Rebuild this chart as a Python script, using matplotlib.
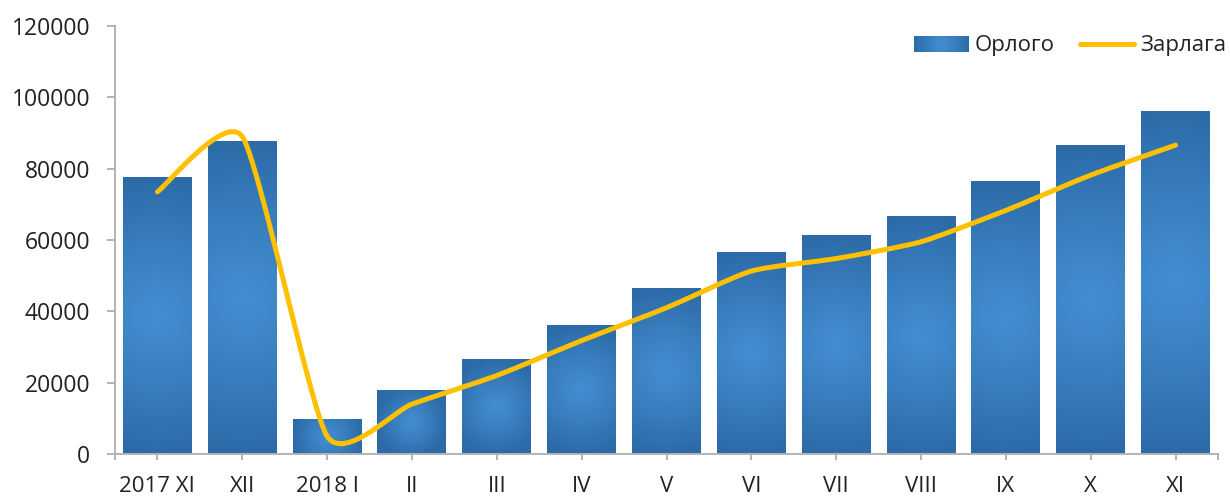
import numpy as np
import matplotlib
matplotlib.use('Agg')
import matplotlib.pyplot as plt
from matplotlib.path import Path
from matplotlib.patches import PathPatch, Rectangle
from matplotlib.lines import Line2D
from matplotlib.colors import LinearSegmentedColormap

# ---- data ----
categories = ['2017 XI', 'XII', '2018 I', 'II', 'III', 'IV', 'V', 'VI', 'VII', 'VIII', 'IX', 'X', 'XI']
orlogo = [77400, 87500, 9800, 17700, 26600, 35900, 46300, 56400, 61400, 66700, 76300, 86400, 95900]
zarlaga = [73500, 89000, 5000, 14000, 22000, 31800, 41000, 51300, 54800, 59500, 68300, 78200, 86600]
yticks = [0, 20000, 40000, 60000, 80000, 100000, 120000]
series_names = ['Орлого', 'Зарлага']

plt.rcParams['font.family'] = ['Open Sans', 'DejaVu Sans']

W, H = 1230, 499
fig = plt.figure(figsize=(W / 100, H / 100), dpi=100)
ax = fig.add_axes([115 / W, 45 / H, 1103 / W, 428 / H])

x = np.arange(len(categories))
bars = ax.bar(x, orlogo, width=0.813, color='none', edgecolor='none', zorder=2)
ax.set_xlim(-0.5, len(categories) - 0.5)
ax.set_ylim(yticks[0], yticks[-1])

LIGHT, DARK = '#438DD0', '#2C6BA8'
cmap = LinearSegmentedColormap.from_list('g', [LIGHT, DARK])


def grad(wpx, hpx, n=96):
    u = np.linspace(-1, 1, n)
    X, Y = np.meshgrid(u * wpx / 2, u * hpx / 2)
    r = np.hypot(X, Y) / (max(wpx, hpx) / 2)
    return np.clip(r, 0, 1) ** 1.2


o = ax.transData.transform((0, 0))
px_x = ax.transData.transform((1, 0))[0] - o[0]
px_y = ax.transData.transform((0, 1))[1] - o[1]
for b in bars:
    x0, y0, w, h = b.get_x(), b.get_y(), b.get_width(), b.get_height()
    ax.imshow(grad(w * px_x, h * px_y), cmap=cmap, vmin=0, vmax=1,
              extent=(x0, x0 + w, y0, y0 + h), origin='lower', aspect='auto',
              interpolation='bilinear', zorder=2)
ax.set_xlim(-0.5, len(categories) - 0.5)
ax.set_ylim(yticks[0], yticks[-1])

# ---- smoothed line (Bezier through the data points) ----
P = ax.transData.transform(np.column_stack([x, zarlaga]).astype(float))
n = len(P)
verts = [P[0]]
codes = [Path.MOVETO]
f = 0.1
for i in range(n - 1):
    p0 = P[i - 1] if i > 0 else P[i]
    p1, p2 = P[i], P[i + 1]
    p3 = P[i + 2] if i + 2 < n else P[i + 1]
    d12 = np.linalg.norm(p2 - p1)
    d02 = np.linalg.norm(p2 - p0)
    d13 = np.linalg.norm(p3 - p1)
    f1 = min(f, d12 / 2 / d02) if d02 > 0 else 0
    f2 = min(f, d12 / 2 / d13) if d13 > 0 else 0
    verts += [p1 + (p2 - p0) * f1, p2 - (p3 - p1) * f2, p2]
    codes += [Path.CURVE4] * 3
vd = ax.transData.inverted().transform(np.array(verts))
LINE_C = '#FFC000'
ax.add_patch(PathPatch(Path(vd, codes), fill=False, edgecolor=LINE_C, lw=3.6,
                       capstyle='round', joinstyle='round', zorder=3))

# ---- axes styling ----
AX_C = '#B3B3B3'
TXT_C = '#222222'
for s in ['top', 'right']:
    ax.spines[s].set_visible(False)
for s in ['left', 'bottom']:
    ax.spines[s].set_color(AX_C)
    ax.spines[s].set_linewidth(1.4)
ax.set_yticks(yticks)
ax.set_yticklabels([str(v) for v in yticks])
ax.set_xticks(x)
ax.set_xticklabels(categories)
ax.set_xticks([-0.5, len(categories) - 0.5], minor=True)
ax.tick_params(axis='y', length=5.8, width=1.4, color=AX_C, pad=12,
               labelsize=16.5, labelcolor=TXT_C)
ax.tick_params(axis='x', which='both', length=4.3, width=1.4, color=AX_C, pad=11.5,
               labelsize=16, labelcolor=TXT_C)

# ---- legend ----
handles = [Rectangle((0, 0), 1, 1, facecolor='#3A7FC0', edgecolor='none'),
           Line2D([], [], color=LINE_C, lw=3.6, solid_capstyle='round')]
leg = ax.legend(handles, series_names, loc='center right',
                bbox_to_anchor=(1226 / W, 1 - 46 / H), bbox_transform=fig.transFigure,
                ncol=2, frameon=False, fontsize=16, handlelength=2.45, handleheight=0.72,
                handletextpad=0.25, columnspacing=1.15, borderpad=0, borderaxespad=0)
for t in leg.get_texts():
    t.set_color(TXT_C)

fig.canvas.draw()
bb = leg.get_patches()[0].get_window_extent()
inset = fig.add_axes([bb.x0 / W, bb.y0 / H, bb.width / W, bb.height / H])
inset.imshow(grad(bb.width, bb.height), cmap=cmap, vmin=0, vmax=1, aspect='auto',
             interpolation='bilinear')
inset.axis('off')

fig.savefig('out.png', dpi=100)
